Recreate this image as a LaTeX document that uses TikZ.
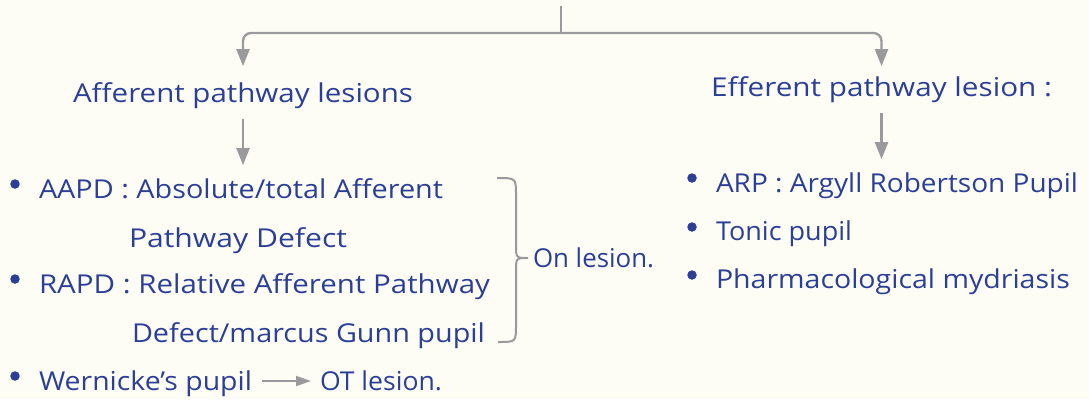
\documentclass[tikz,border=0pt]{standalone}
\usepackage{fontspec}
\setmainfont{Open Sans}
\usepackage{graphicx}
\usetikzlibrary{arrows.meta,calc}
\definecolor{bg}{HTML}{FDFDF6}
\definecolor{ink}{HTML}{2B3F97}
\definecolor{conn}{HTML}{9A9A9C}
\newcommand\fitw[2]{\resizebox{#1pt}{\height}{#2}}
\begin{document}
\begin{tikzpicture}[x=1pt,y=-1pt,
  txt/.style={anchor=base west, inner sep=0pt, outer sep=0pt, text=ink, font=\fontsize{26}{30}\selectfont},
  link/.style={draw=conn, line width=2.3pt},
  tip/.style={-{Triangle[length=17pt,width=13pt]}},
  smalltip/.style={-{Triangle[length=15pt,width=10pt]}},
  dot/.style={circle, fill=ink, inner sep=0pt, minimum size=9.5pt}]
\path[fill=bg] (0,0) rectangle (1089,399);
\useasboundingbox (0,0) rectangle (1089,399);

% titles
\node[txt] (aff) at (73,102) {\fitw{340}{Afferent pathway lesions}};
\node[txt] (eff) at (711,96) {\fitw{341}{Efferent pathway lesion :}};

% left column
\node[txt] (aapd) at (39,198) {\fitw{404}{AAPD : Absolute/total Afferent}};
\node[txt] (aapd2) at (129,247) {\fitw{218}{Pathway Defect}};
\node[txt] (rapd) at (39,293) {\fitw{451}{RAPD : Relative Afferent Pathway}};
\node[txt] (rapd2) at (132,342) {\fitw{353}{Defect/marcus Gunn pupil}};
\node[txt] (wern) at (39,390) {\fitw{213}{Wernicke’s pupil}};
\node[txt] (ot) at (320,390) {\fitw{122}{OT lesion.}};
\node[txt] (on) at (533,267) {\fitw{121}{On lesion.}};

% right column
\node[txt] (arp) at (716,192) {\fitw{362}{ARP : Argyll Robertson Pupil}};
\node[txt] (tonic) at (716,240) {\fitw{136}{Tonic pupil}};
\node[txt] (pharm) at (716,288) {\fitw{354}{Pharmacological mydriasis}};

% bullets
\node[dot] (b1) at (15,184) {};
\node[dot] (b2) at (15,279) {};
\node[dot] (b3) at (15,376) {};
\node[dot] (b4) at (692,178) {};
\node[dot] (b5) at (692,227) {};
\node[dot] (b6) at (692,275) {};

% top connectors
\coordinate (top) at (561,6);
\coordinate (junc) at (561,33);
\draw[link] (top) -- (junc);
\draw[link, tip, rounded corners=8pt, shorten >=16pt] (junc) -| (aff.north);
\draw[link, tip, rounded corners=8pt, shorten >=10pt] (junc) -| (eff.north);

% down arrows
\draw[link, tip, shorten <=11pt, shorten >=13pt] (aff.south) -- (aff.south |- aapd.north);
\draw[link, tip, shorten <=11pt, shorten >=13pt] (eff.south) -- (eff.south |- arp.north);

% Wernicke arrow
\draw[link, line width=1.8pt, smalltip] ($(wern.base east)+(10,-9)$) -- ($(ot.base west)+(-9,-9)$);

% brace
\draw[link, line width=2pt] (497,178) .. controls (516,178) .. (516,195) -- (516,245)
  .. controls (516,258) .. (528,258) .. controls (516,258) .. (516,271) -- (516,325)
  .. controls (516,342) .. (498,342);
\end{tikzpicture}
\end{document}
